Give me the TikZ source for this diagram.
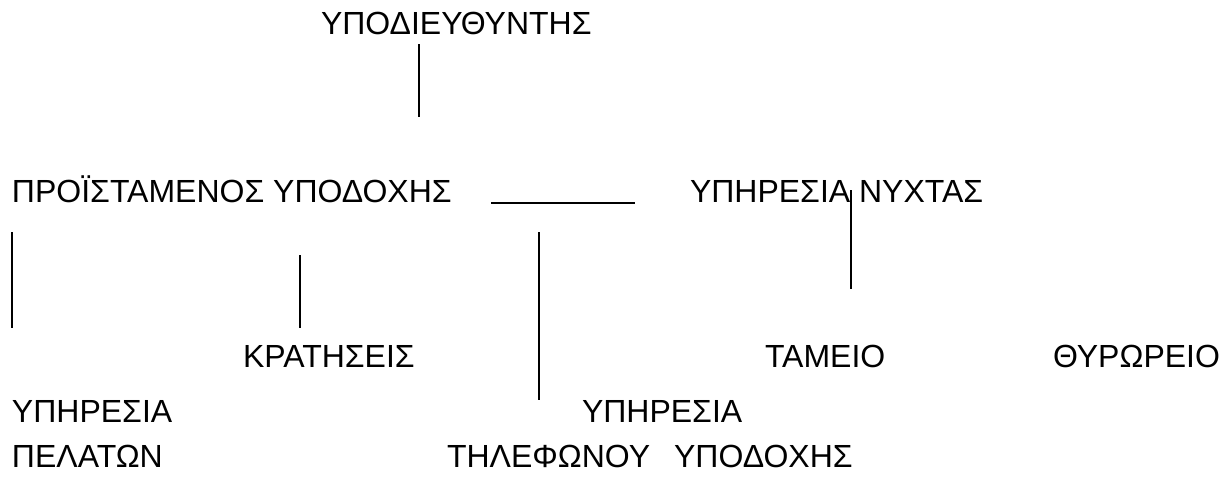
\documentclass[tikz,border=0pt]{standalone}
\usepackage{fontspec}
\setmainfont{Liberation Sans}
\begin{document}
\begin{tikzpicture}[x=0.75pt,y=-0.75pt,
  lbl/.style={anchor=base west,inner sep=0pt,outer sep=0pt,font=\fontsize{24}{28}\selectfont},
  conn/.style={line width=1pt,black}]
\useasboundingbox (0,0) rectangle (1229,480);
% texts
\node[lbl] (dir) at (321,34) {ΥΠΟΔΙΕΥΘΥΝΤΗΣ};
\node[lbl] (head) at (12,202) {ΠΡΟΪΣΤΑΜΕΝΟΣ ΥΠΟΔΟΧΗΣ};
\node[lbl] (night) at (690,202) {ΥΠΗΡΕΣΙΑ ΝΥΧΤΑΣ};
\node[lbl] (book) at (243,367) {ΚΡΑΤΗΣΕΙΣ};
\node[lbl] (cash) at (765,367) {ΤΑΜΕΙΟ};
\node[lbl] (door) at (1053,367) {ΘΥΡΩΡΕΙΟ};
\node[lbl] (cust1) at (12,422) {ΥΠΗΡΕΣΙΑ};
\node[lbl] (cust2) at (12,467) {ΠΕΛΑΤΩΝ};
\node[lbl] (rec1) at (582,422) {ΥΠΗΡΕΣΙΑ};
\node[lbl] (rec2) at (447,467) {ΤΗΛΕΦΩΝΟΥ\hspace{18pt}ΥΠΟΔΟΧΗΣ};
% line end points
\coordinate (a1) at (419,44);  \coordinate (a2) at (419,117);
\coordinate (h1) at (491,203); \coordinate (h2) at (635,203);
\coordinate (n1) at (851,190); \coordinate (n2) at (851,289);
\coordinate (l1) at (12,232);  \coordinate (l2) at (12,328);
\coordinate (k1) at (300,255); \coordinate (k2) at (300,328);
\coordinate (t1) at (539,232); \coordinate (t2) at (539,400);
% connectors
\draw[conn] (a1) -- (a2);
\draw[conn] (h1) -- (h2);
\draw[conn] (n1) -- (n2);
\draw[conn] (l1) -- (l2);
\draw[conn] (k1) -- (k2);
\draw[conn] (t1) -- (t2);
\end{tikzpicture}
\end{document}
